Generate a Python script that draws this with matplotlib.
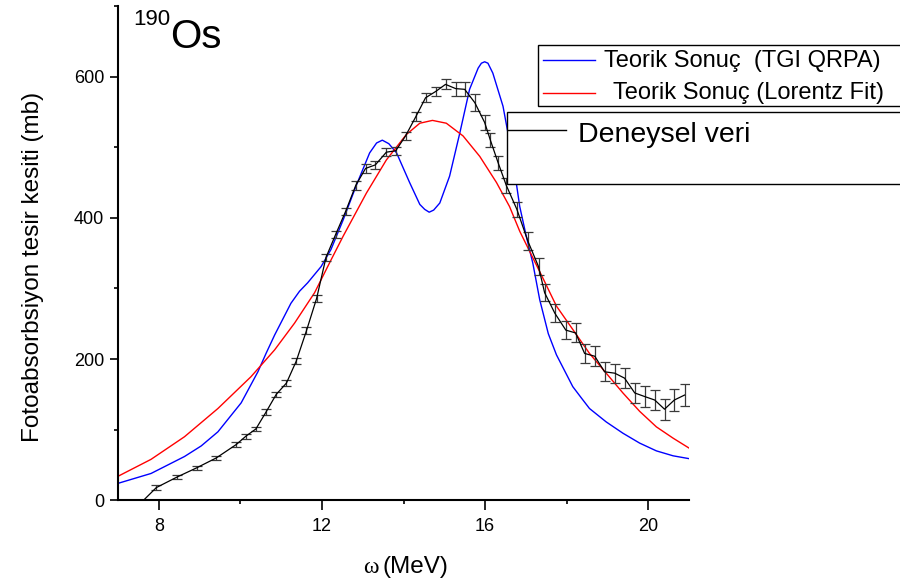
import numpy as np
import matplotlib
matplotlib.use("Agg")
import matplotlib.pyplot as plt
from matplotlib.patches import Rectangle
from matplotlib.ticker import MultipleLocator

plt.rcParams['font.family'] = ['Liberation Sans', 'DejaVu Sans']

# deneysel veri (experimental points)
exp_x = [7.45, 7.94, 8.45, 8.93, 9.41, 9.90, 10.14, 10.38, 10.63, 10.88, 11.13, 11.37,
         11.62, 11.87, 12.10, 12.34, 12.58, 12.83, 13.07, 13.31, 13.58, 13.81, 14.05,
         14.30, 14.54, 14.79, 15.03, 15.28, 15.50, 15.75, 15.99, 16.13, 16.32, 16.52,
         16.78, 17.05, 17.31, 17.46, 17.71, 17.98, 18.22, 18.44, 18.69, 18.93, 19.18,
         19.42, 19.67, 19.91, 20.16, 20.40, 20.64, 20.89]
exp_y = [-10, 18, 33, 46, 60, 79, 91, 101, 125, 150, 166, 197, 240, 286, 344, 377, 409,
         446, 470, 475, 493, 495, 516, 543, 570, 579, 589, 583, 582, 563, 535, 510, 478,
         446, 412, 367, 331, 294, 265, 241, 237, 208, 204, 182, 180, 173, 152, 147, 142,
         129, 142, 149]
exp_err = [3, 3, 3, 3, 3, 3.5, 3.5, 3.5, 4, 4, 4, 4.5, 5, 5, 5, 5, 5.5, 6, 6, 6, 6, 6, 6,
           6.5, 6.5, 7, 7, 10, 10, 12, 11, 10, 10, 10.5, 11, 12.5, 12, 12, 12.5, 13, 13.5,
           13, 14, 13.5, 13.5, 14, 14, 14.5, 14.5, 15, 15.5, 16]

# TGI QRPA
qrpa_x = [7.00, 7.81, 8.63, 9.04, 9.45, 10.02, 10.43, 10.63, 10.84, 11.24, 11.45, 11.65,
          11.98, 12.22, 12.52, 12.85, 13.17, 13.34, 13.48, 13.64, 13.83, 14.15, 14.40,
          14.52, 14.63, 14.74, 14.89, 15.13, 15.38, 15.62, 15.83, 15.91, 15.99, 16.07,
          16.19, 16.44, 16.68, 16.85, 17.01, 17.17, 17.34, 17.55, 17.75, 18.15, 18.36,
          18.56, 18.97, 19.38, 19.79, 20.20, 20.61, 21.00]
qrpa_y = [24, 38, 62, 77, 97, 138, 182, 208, 234, 279, 296, 308, 331, 355, 397, 447, 492,
          506, 510, 505, 492, 450, 419, 412, 408, 411, 421, 459, 520, 582, 612, 619, 621,
          619, 605, 558, 483, 416, 374, 336, 284, 236, 206, 161, 145, 130, 111, 95, 81,
          70, 63, 59]

# Lorentz fit
lor_x = [7.00, 7.81, 8.63, 9.45, 10.26, 10.84, 11.33, 11.82, 12.22, 12.52, 13.09, 13.58,
         14.07, 14.40, 14.71, 15.05, 15.46, 15.87, 16.28, 16.60, 16.85, 17.44, 17.75,
         18.15, 18.56, 18.97, 19.38, 19.79, 20.20, 20.61, 21.00]
lor_y = [34, 58, 90, 130, 175, 213, 251, 294, 340, 374, 435, 482, 518, 534, 538, 534, 516,
         487, 450, 416, 381, 312, 275, 242, 208, 180, 152, 126, 104, 88, 74]

W, H = 900, 583
fig = plt.figure(figsize=(9, 5.83), dpi=100)
ax = fig.add_axes([118 / W, (H - 500.3) / H, 571 / W, 494.3 / H])

ax.plot(qrpa_x, qrpa_y, color='#0000ff', lw=1.0)
ax.plot(lor_x, lor_y, color='#ff0000', lw=1.0)
ax.errorbar(exp_x, exp_y, yerr=exp_err, color='black', lw=0.9, ecolor='#3a3a3a',
            elinewidth=0.9, capsize=3.5, capthick=0.9)

ax.set_xlim(7, 21)
ax.set_ylim(0, 700)
ax.yaxis.set_major_locator(MultipleLocator(200))
ax.yaxis.set_minor_locator(MultipleLocator(100))
ax.set_xticks([8, 12, 16, 20])
ax.set_xticks([10, 14, 18], minor=True)
for s in ['top', 'right']:
    ax.spines[s].set_visible(False)
for s in ['left', 'bottom']:
    ax.spines[s].set_linewidth(1.5)
ax.tick_params(which='major', direction='out', length=6, width=1.2, labelsize=13, pad=4)
ax.tick_params(which='minor', direction='out', length=3, width=1.2)
ax.tick_params(axis='x', which='major', length=7, pad=6)

def px(x, y):
    return x / W, 1 - y / H

fig.text(*px(33, 267), 'Fotoabsorbsiyon tesir kesiti (mb)', rotation=90,
         ha='center', va='center', fontsize=17.5)
fig.text(*px(379, 573), 'ω', family='Liberation Serif', fontsize=17,
         ha='right', va='baseline')
fig.text(*px(383, 573), '(MeV)', fontsize=17.5, ha='left', va='baseline')
fig.text(*px(133, 25), '190', fontsize=16, ha='left', va='baseline')
fig.text(*px(170, 48), 'Os', fontsize=29, ha='left', va='baseline')

# legend boxes
lg = fig.add_axes([0, 0, 1, 1], zorder=5)
lg.set_xlim(0, W)
lg.set_ylim(H, 0)
lg.axis('off')
lg.patch.set_alpha(0)
lg.add_patch(Rectangle((538, 45), 400, 61, facecolor='white', edgecolor='black', lw=1))
lg.add_patch(Rectangle((507, 112), 400, 72, facecolor='white', edgecolor='black', lw=1))
lg.plot([543, 595], [60, 60], color='#0000ff', lw=1)
lg.plot([543, 595], [93, 93], color='#ff0000', lw=1)
lg.plot([508, 566], [130, 130], color='black', lw=1)
lg.text(604, 67, 'Teorik Sonuç  (TGI QRPA)', fontsize=17, ha='left', va='baseline')
lg.text(613, 99, 'Teorik Sonuç (Lorentz Fit)', fontsize=17, ha='left', va='baseline')
lg.text(578, 142, 'Deneysel veri', fontsize=20.5, ha='left', va='baseline')

fig.savefig('out.png', dpi=100)
